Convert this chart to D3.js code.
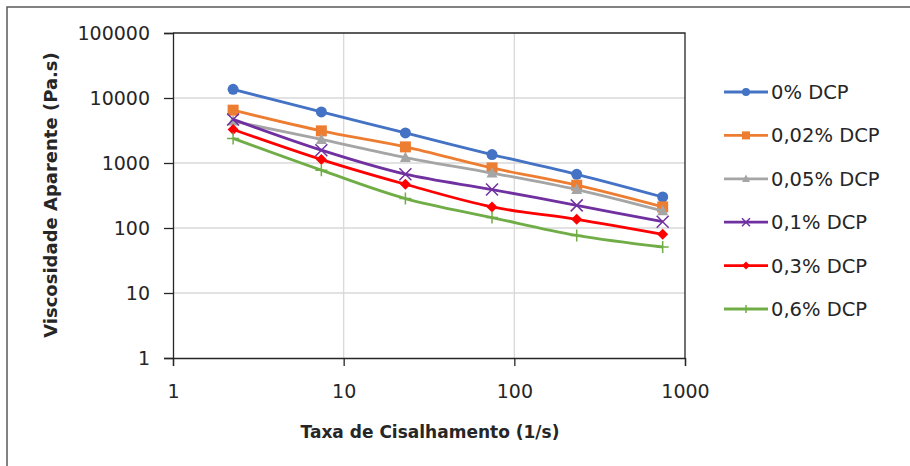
<!DOCTYPE html>
<html>
<head>
<meta charset="utf-8">
<script src="https://cdn.jsdelivr.net/npm/d3@7"></script>
<style>
  body { margin: 0; background: #fff; }
  text { font-family: "DejaVu Sans", sans-serif; fill: #262626; }
</style>
</head>
<body>
<script>
// shear rate (1/s) and apparent viscosity (Pa.s)
var shearRate = [2.25, 7.4, 23, 74, 232, 740];
var seriesNames = ["0% DCP", "0,02% DCP", "0,05% DCP", "0,1% DCP", "0,3% DCP", "0,6% DCP"];
var visc0 = [13600, 6100, 2900, 1350, 670, 300];
var visc002 = [6500, 3120, 1770, 840, 455, 211];
var visc005 = [4400, 2300, 1215, 700, 390, 183];
var visc01 = [4680, 1575, 672, 391, 223, 125];
var visc03 = [3280, 1130, 471, 211, 136, 80];
var visc06 = [2390, 775, 284, 145, 77, 51];
var xTicks = [1, 10, 100, 1000];
var yTicks = [1, 10, 100, 1000, 10000, 100000];

var colors = ["#4472C4", "#ED7D31", "#A5A5A5", "#7030A0", "#FF0000", "#70AD47"];
var markers = ["circle", "square", "triangle", "x", "diamond", "plus"];
var allValues = [visc0, visc002, visc005, visc01, visc03, visc06];

var w = 910, h = 466;
var plotL = 173, plotR = 685, plotT = 33, plotB = 358;

var svg = d3.select("body").append("svg").attr("width", w).attr("height", h);

// outer chart frame
svg.append("rect")
  .attr("x", 7).attr("y", 7).attr("width", 1000).attr("height", 1000)
  .attr("fill", "#fff").attr("stroke", "#595959").attr("stroke-width", 1.5);

var x = d3.scaleLog().domain([1, 1000]).range([plotL, plotR]);
var y = d3.scaleLog().domain([1, 100000]).range([plotB, plotT]);

// gridlines
svg.append("g").selectAll("line")
  .data(yTicks.slice(1, -1))
  .enter().append("line")
  .attr("x1", plotL).attr("x2", plotR)
  .attr("y1", function(d) { return y(d); }).attr("y2", function(d) { return y(d); })
  .attr("stroke", "#d9d9d9").attr("stroke-width", 1.3);

svg.append("g").selectAll("line")
  .data(xTicks.slice(1, -1))
  .enter().append("line")
  .attr("y1", plotT).attr("y2", plotB)
  .attr("x1", function(d) { return x(d); }).attr("x2", function(d) { return x(d); })
  .attr("stroke", "#d9d9d9").attr("stroke-width", 1.3);

// top and right border of plot area
svg.append("path")
  .attr("d", "M" + plotL + "," + plotT + "H" + plotR + "V" + plotB)
  .attr("fill", "none").attr("stroke", "#262626").attr("stroke-width", 1.3);

var yAxis = svg.append("g")
  .attr("transform", "translate(" + plotL + ",0)")
  .call(d3.axisLeft(y).tickValues(yTicks).tickFormat(d3.format("d")).tickSize(9).tickPadding(14));

var xAxis = svg.append("g")
  .attr("transform", "translate(0," + plotB + ")")
  .call(d3.axisBottom(x).tickValues(xTicks).tickFormat(d3.format("d")).tickSize(8).tickPadding(21));

[xAxis, yAxis].forEach(function(a) {
  a.select(".domain").attr("stroke", "#262626").attr("stroke-width", 1.3);
  a.selectAll(".tick line").attr("stroke", "#262626").attr("stroke-width", 1.3);
  a.selectAll("text").attr("font-size", 19).attr("fill", "#262626")
    .style("font-family", "DejaVu Sans");
});
xAxis.selectAll("text").attr("dy", "0.6em");

// axis titles
svg.append("text")
  .attr("x", 430).attr("y", 438)
  .attr("text-anchor", "middle")
  .attr("font-size", 17).attr("font-weight", "bold")
  .text("Taxa de Cisalhamento (1/s)");

svg.append("text")
  .attr("transform", "translate(57,195) rotate(-90)")
  .attr("text-anchor", "middle")
  .attr("font-size", 18).attr("font-weight", "bold")
  .text("Viscosidade Aparente (Pa.s)");

function drawMarker(g, type, color, s) {
  if (type == "circle") {
    g.append("circle").attr("r", s).attr("fill", color);
  } else if (type == "square") {
    g.append("rect").attr("x", -s).attr("y", -s).attr("width", 2 * s).attr("height", 2 * s).attr("fill", color);
  } else if (type == "triangle") {
    g.append("path").attr("d", "M0," + (-s * 1.1) + "L" + s + "," + (s * 0.8) + "L" + (-s) + "," + (s * 0.8) + "Z").attr("fill", color);
  } else if (type == "diamond") {
    g.append("path").attr("d", "M0," + (-s) + "L" + s + ",0L0," + s + "L" + (-s) + ",0Z").attr("fill", color);
  } else if (type == "x") {
    g.append("path").attr("d", "M" + (-s) + "," + (-s) + "L" + s + "," + s + "M" + s + "," + (-s) + "L" + (-s) + "," + s)
      .attr("stroke", color).attr("stroke-width", 1.5);
  } else if (type == "plus") {
    g.append("path").attr("d", "M" + (-s) + ",0H" + s + "M0," + (-s) + "V" + s)
      .attr("stroke", color).attr("stroke-width", 1.5);
  }
}

var line = d3.line()
  .x(function(d) { return x(d[0]); })
  .y(function(d) { return y(d[1]); })
  .curve(d3.curveCatmullRom.alpha(0.5));

// draw series
allValues.forEach(function(vals, i) {
  var pts = shearRate.map(function(r, j) { return [r, vals[j]]; });
  var g = svg.append("g").attr("class", "series");
  g.append("path")
    .attr("d", line(pts))
    .attr("fill", "none")
    .attr("stroke", colors[i])
    .attr("stroke-width", 2.8);
  pts.forEach(function(p) {
    var m = g.append("g").attr("transform", "translate(" + x(p[0]) + "," + y(p[1]) + ")");
    drawMarker(m, markers[i], colors[i], markers[i] == "x" || markers[i] == "plus" ? 6 : 5.5);
  });
});

// legend
var legend = svg.append("g").attr("class", "legend");
seriesNames.forEach(function(name, i) {
  var ly = 92 + i * 43.4;
  var row = legend.append("g").attr("transform", "translate(0," + ly + ")");
  row.append("line").attr("x1", 724).attr("x2", 768).attr("y1", 0).attr("y2", 0)
    .attr("stroke", colors[i]).attr("stroke-width", 2.8);
  var m = row.append("g").attr("transform", "translate(746,0)");
  drawMarker(m, markers[i], colors[i], 4);
  row.append("text")
    .attr("x", 771).attr("y", 0).attr("dy", "0.36em")
    .attr("font-size", 19.5)
    .text(name);
});
</script>
</body>
</html>
